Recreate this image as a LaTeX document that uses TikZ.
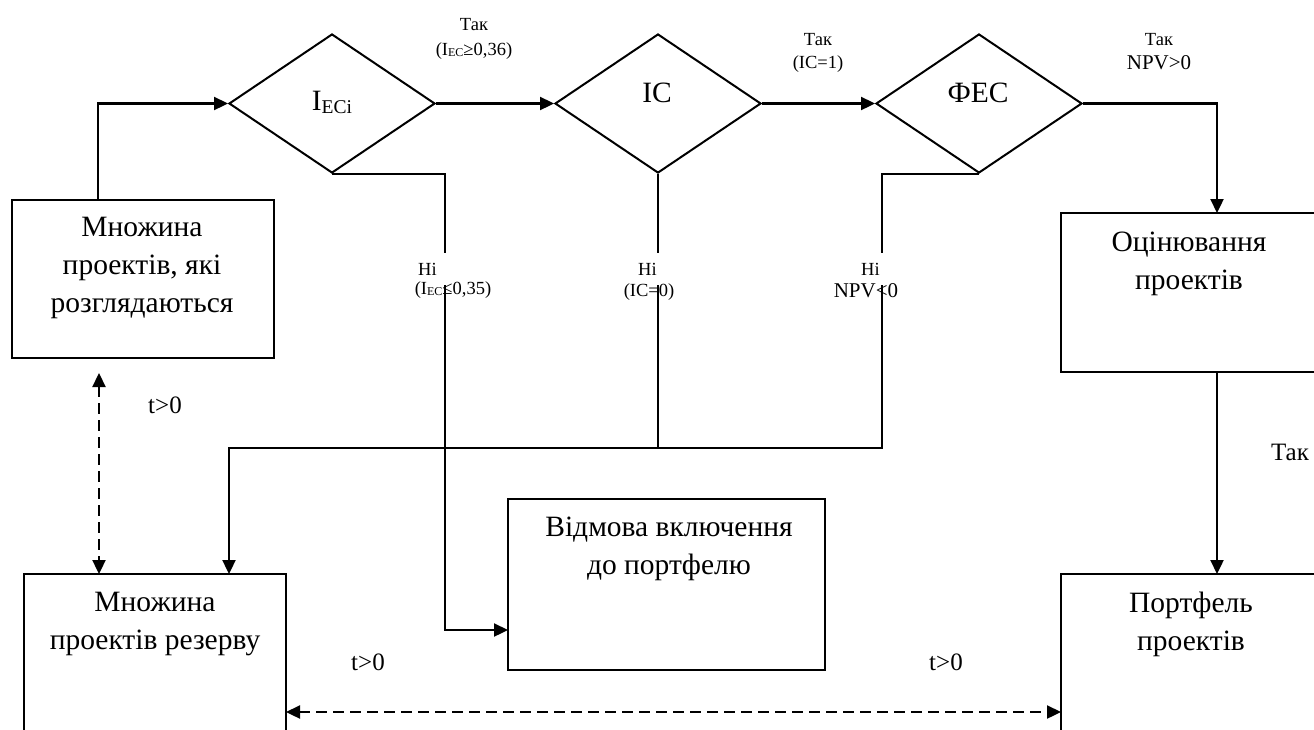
\documentclass[tikz,border=0pt]{standalone}
\usepackage{fontspec}
\setmainfont{Liberation Serif}
\usetikzlibrary{shapes.geometric,arrows.meta}
\begin{document}
\begin{tikzpicture}[x=1pt,y=-1pt,
  box/.style={draw, line width=2pt, rectangle, inner sep=0pt},
  dia/.style={draw, diamond, line width=2pt, inner sep=0pt, minimum width=206pt, minimum height=139pt},
  bt/.style={font=\fontsize{29.5}{38}\selectfont, inner sep=0pt, align=center},
  dt/.style={font=\fontsize{29.5}{34}\selectfont, inner sep=0pt, anchor=base},
  sl/.style={font=\fontsize{18.5}{22}\selectfont, inner sep=0pt, anchor=base},
  ml/.style={font=\fontsize{21}{24}\selectfont, inner sep=0pt, anchor=base},
  tl/.style={font=\fontsize{25}{28}\selectfont, inner sep=0pt, anchor=base},
  nl/.style={font=\fontsize{18.5}{22}\selectfont, fill=white, anchor=west, text width=30pt, align=left, inner xsep=2pt, minimum height=32pt},
  arr/.style={line width=2.3pt, -{Triangle[length=14pt,width=13pt]}},
  ln/.style={line width=2.3pt},
  darr/.style={line width=2.3pt, dash pattern=on 11pt off 6pt, {Triangle[length=14pt,width=13pt]}-{Triangle[length=14pt,width=13pt]}}
]
\useasboundingbox (0,0) rectangle (1314,729);
\clip (0,0) rectangle (1314,729);

% boxes
\node[box, minimum width=262pt, minimum height=158pt] (b1) at (143,279) {};
\node[bt] (b1t) at (142,268) {Множина\\проектів, які\\розглядаються};

\node[box, minimum width=262pt, minimum height=159pt] (oc) at (1192,292.5) {};
\node[bt] (oct) at (1189,264) {Оцінювання\\проектів};

\node[box, minimum width=317pt, minimum height=171pt] (rej) at (666.5,584.5) {};
\node[bt] (rejt) at (669,549) {Відмова включення\\до портфелю};

\node[box, minimum width=262pt, minimum height=200pt] (res) at (155,674) {};
\node[bt] (rest) at (155,624) {Множина\\проектів резерву};

\node[box, minimum width=262pt, minimum height=200pt] (port) at (1192,674) {};
\node[bt] (portt) at (1191,624) {Портфель\\проектів};

% diamonds
\node[dia] (d1) at (332,103.5) {};
\node[dt] (d1t) at (332,110) {I{\fontsize{19.5}{20}\selectfont\raisebox{-3pt}{ECi}}};
\node[dia] (d2) at (658,103.5) {};
\node[dt] (d2t) at (657,102) {IC};
\node[dia] (d3) at (979,103.5) {};
\node[dt] (d3t) at (978,102) {ФЕС};

% coordinates
\coordinate (b1up) at (98,200);
\coordinate (octop) at (1217,213);
\coordinate (ocbot) at (1217,372);
\coordinate (porttop) at (1217,574);
\coordinate (nj) at (445,630);
\coordinate (rejin) at (508,630);
\coordinate (hR) at (882,448);
\coordinate (resin) at (229,574);
\coordinate (dvtop) at (99,373);
\coordinate (dvbot) at (99,574);
\coordinate (dhl) at (286,712);
\coordinate (dhr) at (1061,712);

% connectors
\draw[arr] (b1up) |- (d1.west);
\draw[arr] (d1.east) -- (d2.west);
\draw[arr] (d2.east) -- (d3.west);
\draw[arr] (d3.east) -| (octop);
\draw[arr] (ocbot) -- (porttop);
\draw[arr] (d1.south) -| (nj) -- (rejin);
\draw[ln] (d2.south) -- (d2.south |- hR);
\draw[arr] (d3.south) -| (hR) -| (resin);
\draw[darr] (dvtop) -- (dvbot);
\draw[darr] (dhl) -- (dhr);

% labels
\node[sl] (y1a) at (474,30) {Так};
\node[sl] (y1b) at (474,55) {(I{\fontsize{12}{14}\selectfont\raisebox{-1pt}{EC}}≥0,36)};
\node[sl] (y2a) at (818,45) {Так};
\node[sl] (y2b) at (818,68) {(IC=1)};
\node[sl] (y3a) at (1159,45) {Так};
\node[ml] (y3b) at (1159,69) {NPV>0};
\node[tl] (y4) at (1290,460) {Так};

\node[nl] (n1a) at (416,269) {Ні};
\node[sl] (n1b) at (453,294) {(I{\fontsize{12}{14}\selectfont\raisebox{-1pt}{EC}}≤0,35)};
\node[nl] (n2a) at (636,269) {Ні};
\node[sl] (n2b) at (649,296) {(IC=0)};
\node[nl] (n3a) at (859,269) {Ні};
\node[ml] (n3b) at (866,297) {NPV<0};

\node[tl] (t1) at (165,413) {t>0};
\node[tl] (t2) at (368,670) {t>0};
\node[tl] (t3) at (946,670) {t>0};
\end{tikzpicture}
\end{document}
